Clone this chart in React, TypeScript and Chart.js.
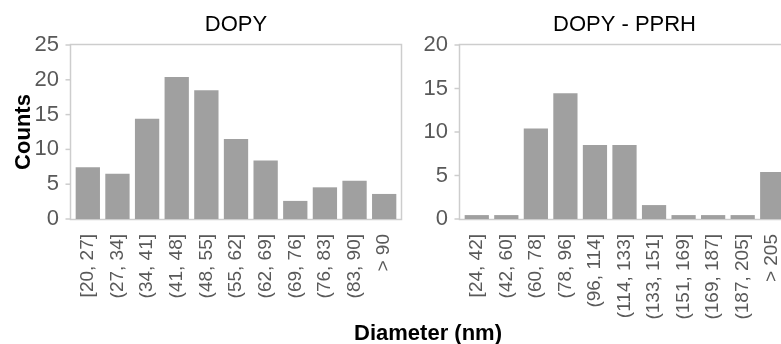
import React, { useEffect, useRef } from "react";
import { Chart, registerables } from "chart.js";

Chart.register(...registerables);

const dopyLabels = ["[20, 27]", "(27, 34]", "(34, 41]", "(41, 48]", "(48, 55]", "(55, 62]", "(62, 69]", "(69, 76]", "(76, 83]", "(83, 90]", "> 90"];
const dopyCounts = [7.45, 6.5, 14.4, 20.4, 18.5, 11.5, 8.4, 2.6, 4.55, 5.5, 3.6];

const pprhLabels = ["[24, 42]", "(42, 60]", "(60, 78]", "(78, 96]", "(96, 114]", "(114, 133]", "(133, 151]", "(151, 169]", "(169, 187]", "(187, 205]", "> 205"];
const pprhCounts = [0.45, 0.45, 10.4, 14.45, 8.5, 8.5, 1.6, 0.45, 0.45, 0.45, 5.4];

const FONT = "'Liberation Sans', Arial, Helvetica, sans-serif";
const BAR = "#a0a0a0";
const LINE = "#cdcdcd";
const TICK = "#595959";

const framePlugin = {
  id: "frame",
  beforeDatasetsDraw(chart: any) {
    const { ctx, chartArea: a } = chart;
    const y = chart.scales.y;
    ctx.save();
    ctx.strokeStyle = LINE;
    ctx.lineWidth = 1.5;
    const L = a.left - 2.5;
    const R = a.right + 2.5;
    const T = a.top - 0.5;
    const B = a.bottom + 0.5;
    ctx.strokeRect(L, T, R - L, B - T);
    y.ticks.forEach((t: any) => {
      const py = y.getPixelForValue(t.value);
      ctx.beginPath();
      ctx.moveTo(L - 5, py);
      ctx.lineTo(L, py);
      ctx.stroke();
    });
    ctx.restore();
  },
};

function zeroPadding(s: any) {
  s.paddingLeft = 0;
  s.paddingRight = 0;
  s.paddingTop = 0;
  s.paddingBottom = 0;
}

function makeConfig(title: string, labels: string[], data: number[], max: number, yWidth: number, padRight: number, showYTitle: boolean): any {
  return {
    type: "bar",
    data: {
      labels,
      datasets: [
        {
          data,
          backgroundColor: BAR,
          borderWidth: 0,
          categoryPercentage: 1,
          barPercentage: 0.82,
        },
      ],
    },
    plugins: [framePlugin],
    options: {
      animation: false,
      responsive: false,
      layout: { padding: { left: 0, right: padRight, top: 0, bottom: 0 } },
      plugins: {
        legend: { display: false },
        tooltip: { enabled: false },
        title: {
          display: true,
          text: title,
          fullSize: false,
          color: "#000",
          font: { family: FONT, size: 22, weight: "normal" },
          padding: { top: 12, bottom: 6.6 },
        },
      },
      scales: {
        x: {
          grid: { display: false, drawTicks: false },
          border: { display: false },
          ticks: {
            autoSkip: false,
            minRotation: 90,
            maxRotation: 90,
            padding: 15,
            color: TICK,
            font: { family: FONT, size: 19 },
          },
          afterFit: (s: any) => {
            s.height = 125;
            zeroPadding(s);
          },
        },
        y: {
          min: 0,
          max,
          grid: { display: false, drawTicks: false },
          border: { display: false },
          ticks: {
            stepSize: 5,
            padding: 14,
            color: TICK,
            font: { family: FONT, size: 22 },
          },
          title: {
            display: showYTitle,
            text: "Counts",
            color: "#000",
            font: { family: FONT, size: 22, weight: "bold" },
            padding: { top: 11, bottom: 4 },
          },
          afterFit: (s: any) => {
            s.width = yWidth;
            zeroPadding(s);
          },
        },
      },
    },
  };
}

export default function App() {
  const leftRef = useRef<HTMLCanvasElement>(null);
  const rightRef = useRef<HTMLCanvasElement>(null);

  useEffect(() => {
    const c1 = new Chart(leftRef.current as HTMLCanvasElement, makeConfig("DOPY", dopyLabels, dopyCounts, 25, 73, 6, true));
    const c2 = new Chart(rightRef.current as HTMLCanvasElement, makeConfig("DOPY - PPRH", pprhLabels, pprhCounts, 20, 57, 18, false));
    return () => {
      c1.destroy();
      c2.destroy();
    };
  }, []);

  return (
    <div style={{ position: "fixed", left: 0, top: 0, width: 781, height: 344, overflow: "hidden", background: "#fff" }}>
      <canvas ref={leftRef} width={405} height={344} style={{ position: "absolute", left: 0, top: 0 }} />
      <canvas ref={rightRef} width={400} height={344} style={{ position: "absolute", left: 405, top: 0 }} />
      <div
        style={{
          position: "absolute",
          left: 428,
          top: 320,
          transform: "translateX(-50%)",
          whiteSpace: "nowrap",
          fontFamily: FONT,
          fontWeight: "bold",
          fontSize: 22,
          lineHeight: "26px",
          color: "#000",
        }}
      >
        Diameter (nm)
      </div>
    </div>
  );
}
